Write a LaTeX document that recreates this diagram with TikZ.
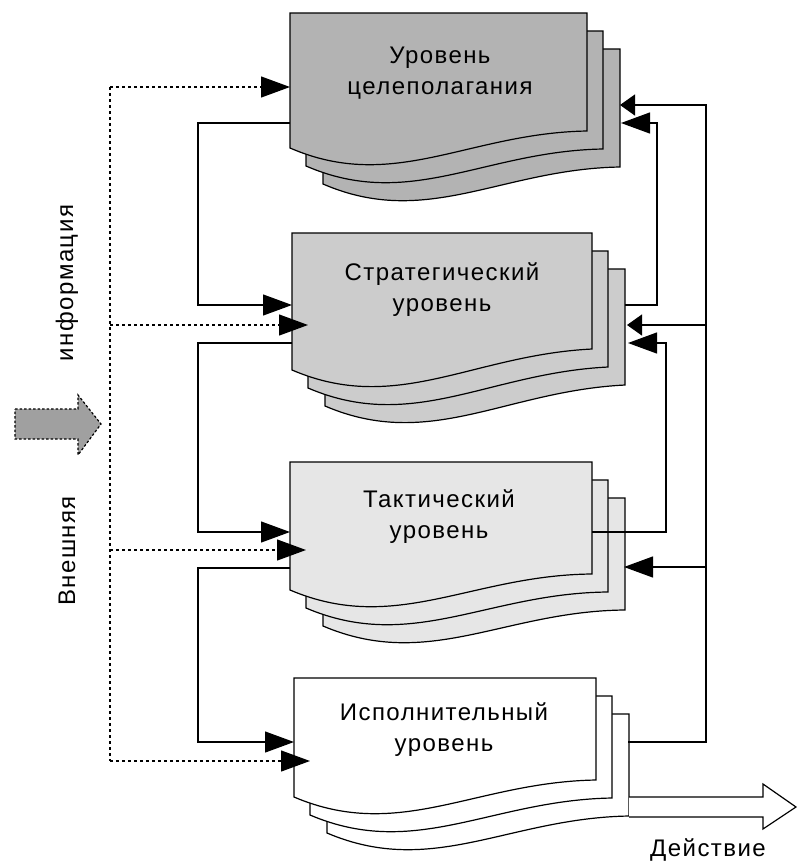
\documentclass[tikz,border=0pt]{standalone}
\usepackage{fontspec}
\setmainfont{Liberation Sans}[LetterSpace=6]
\usetikzlibrary{arrows.meta,calc}
\definecolor{lvA}{HTML}{B3B3B3}
\definecolor{lvB}{HTML}{CCCCCC}
\definecolor{lvC}{HTML}{E6E6E6}
\definecolor{lvD}{HTML}{FFFFFF}
\definecolor{garrow}{HTML}{A0A0A0}
\tikzset{
  sheetline/.style={draw=black,line width=1.2pt,line join=miter},
  conn/.style={draw=black,line width=1.2pt},
  bigtip/.style={-{Triangle[length=29pt,width=21pt]}},
  shorttip/.style={-{Triangle[length=15pt,width=21pt]}},
  infoline/.style={draw=black,line width=1.2pt,dash pattern=on 3pt off 3pt},
  lvtext/.style={align=center,font=\fontsize{24}{31}\selectfont,inner sep=0pt},
  sidetext/.style={font=\fontsize{24}{28}\selectfont,inner sep=0pt,rotate=90},
}
\newcommand{\docsheet}[6]{%
  \filldraw[sheetline,fill=#6] ({#1},{#2}) -- ({#1+#3},{#2}) -- ({#1+#3},{#2+#4-#5})
    .. controls ({#1+0.6*#3},{#2+#4-15}) and ({#1+0.35*#3},{#2+#4+45}) .. ({#1},{#2+#4}) -- cycle;}
\newcommand{\docstack}[7]{%
  \docsheet{#1+33}{#2+36}{#3}{#4}{#5}{#6}
  \docsheet{#1+16}{#2+18}{#3}{#4}{#5}{#6}
  \docsheet{#1}{#2}{#3}{#4}{#5}{#6}
  \node[inner sep=0pt,minimum width=#3pt,minimum height=#4pt,anchor=north west] (#7) at ({#1},{#2}) {};}
\begin{document}
\begin{tikzpicture}[x=1pt,y=-1pt]
\useasboundingbox (0,0) rectangle (797,863);

% level stacks
\docstack{290}{13}{297}{135}{17}{lvA}{b1}
\docstack{292}{233}{300}{137}{21}{lvB}{b2}
\docstack{290}{462}{302}{128}{16}{lvC}{b3}
\docstack{294}{678}{302}{119}{17}{lvD}{b4}

\node[lvtext] (t1) at (440,73) {Уровень\\целеполагания};
\node[lvtext] (t2) at (442,290) {Стратегический\\уровень};
\node[lvtext] (t3) at (439,517) {Тактический\\уровень};
\node[lvtext] (t4) at (444,730) {Исполнительный\\уровень};

% connection points
\coordinate (b1out) at (290,123);
\coordinate (b2in)  at (292,305);
\coordinate (b2out) at (292,343);
\coordinate (b3in)  at (290,532);
\coordinate (b3out) at (290,568);
\coordinate (b4in)  at (294,742);
\coordinate (lx) at (198,0);

\coordinate (i1) at (290,87);
\coordinate (i2) at (308,325);
\coordinate (i3) at (306,550);
\coordinate (i4) at (310,761);
\coordinate (ix) at (110,0);

\coordinate (b2r)  at (625,305);
\coordinate (b1r1) at (620,105);
\coordinate (b1r2) at (621,123);
\coordinate (b2r1) at (627,325);
\coordinate (b2r2) at (628,343);
\coordinate (b3r0) at (592,532);
\coordinate (b3r1) at (624,567);
\coordinate (b4r)  at (628,742);
\coordinate (rx1) at (657,0);
\coordinate (rx2) at (666,0);
\coordinate (rx3) at (706,0);

% left feedback loops
\draw[conn,bigtip] (b1out) -- (b1out -| lx) -- (b2in -| lx) -- (b2in);
\draw[conn,bigtip] (b2out) -- (b2out -| lx) -- (b3in -| lx) -- (b3in);
\draw[conn,bigtip] (b3out) -- (b3out -| lx) -- (b4in -| lx) -- (b4in);

% external information
\draw[infoline] (i1 -| ix) -- (i4 -| ix);
\draw[infoline,bigtip] (i1 -| ix) -- (i1);
\draw[infoline,bigtip] (i2 -| ix) -- (i2);
\draw[infoline,bigtip] (i3 -| ix) -- (i3);
\draw[infoline,bigtip] (i4 -| ix) -- (i4);

% right feedback
\draw[conn,bigtip] (b2r) -- (b2r -| rx1) -- (b1r2 -| rx1) -- (b1r2);
\draw[conn,bigtip] (b3r0) -- (b3r0 -| rx2) -- (b2r2 -| rx2) -- (b2r2);
\draw[conn,shorttip] (b4r) -- (b4r -| rx3) -- (b1r1 -| rx3) -- (b1r1);
\draw[conn,shorttip] (b2r1 -| rx3) -- (b2r1);
\draw[conn,bigtip] (b3r1 -| rx3) -- (b3r1);

% gray input arrow
\draw[fill=garrow,draw=black,line width=1.2pt,dash pattern=on 2.5pt off 2pt]
  (15,409) -- (78,409) -- (78,395) -- (101,424) -- (78,455) -- (78,439) -- (15,439) -- cycle;

\node[sidetext] (inf) at (67,283) {информация};
\node[sidetext] (ext) at (67,551) {Внешняя};

% output arrow
\coordinate (outs) at (629,797);
\draw[line width=1.2pt,fill=white] (outs) -- (763,797) -- (763,784) -- (796,807) -- (763,829) -- (763,817) -- (629,817);
\node[font=\fontsize{24}{28}\selectfont,inner sep=0pt] (act) at (708,850) {Действие};
\end{tikzpicture}
\end{document}
